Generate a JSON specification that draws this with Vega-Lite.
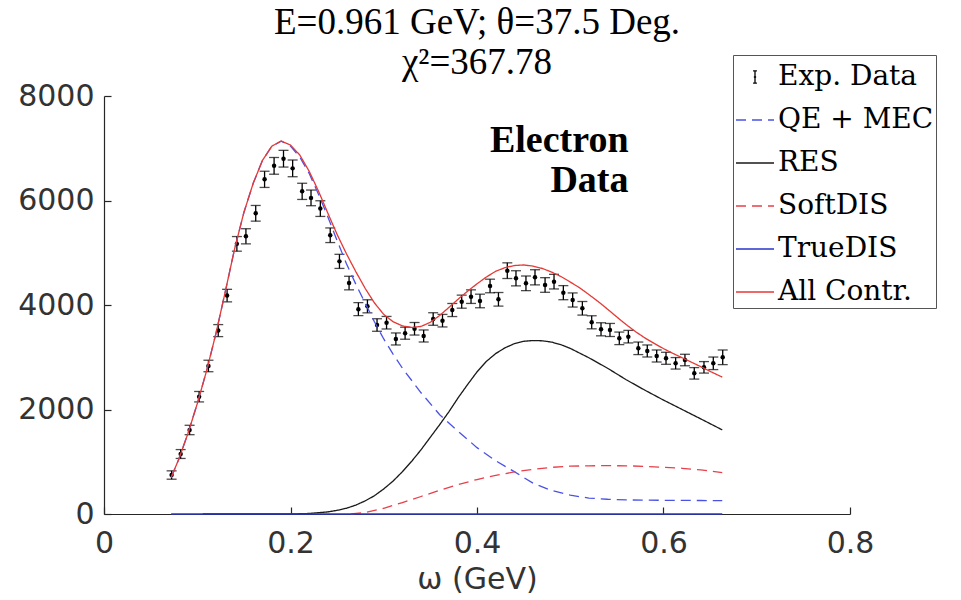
{
  "$schema": "https://vega.github.io/schema/vega-lite/v6.json",
  "width": 746,
  "height": 418,
  "autosize": {"type": "none"},
  "padding": {"left": 104, "top": 96, "right": 111, "bottom": 86},
  "background": "white",
  "title": {
    "text": ["E=0.961 GeV; θ=37.5 Deg.", "χ²=367.78"],
    "font": "Liberation Serif",
    "fontSize": 37,
    "fontWeight": "normal",
    "color": "#000000",
    "anchor": "middle",
    "lineHeight": 40,
    "offset": -27
  },
  "datasets": {
    "exp": [
      {"w": 0.0725, "v": 746, "e": 80},
      {"w": 0.0822, "v": 1148, "e": 85},
      {"w": 0.0918, "v": 1608, "e": 90},
      {"w": 0.1020, "v": 2245, "e": 100},
      {"w": 0.1120, "v": 2833, "e": 110},
      {"w": 0.1225, "v": 3510, "e": 115},
      {"w": 0.1320, "v": 4180, "e": 120},
      {"w": 0.1425, "v": 5170, "e": 140},
      {"w": 0.1522, "v": 5315, "e": 145},
      {"w": 0.1627, "v": 5755, "e": 150},
      {"w": 0.1722, "v": 6405, "e": 155},
      {"w": 0.1824, "v": 6663, "e": 160},
      {"w": 0.1925, "v": 6800, "e": 160},
      {"w": 0.2023, "v": 6615, "e": 160},
      {"w": 0.2125, "v": 6175, "e": 155},
      {"w": 0.2220, "v": 6050, "e": 150},
      {"w": 0.2320, "v": 5845, "e": 150},
      {"w": 0.2426, "v": 5335, "e": 140},
      {"w": 0.2525, "v": 4835, "e": 135},
      {"w": 0.2628, "v": 4420, "e": 130},
      {"w": 0.2728, "v": 3920, "e": 125},
      {"w": 0.2825, "v": 3975, "e": 125},
      {"w": 0.2928, "v": 3617, "e": 120},
      {"w": 0.3030, "v": 3661, "e": 120},
      {"w": 0.3130, "v": 3350, "e": 115},
      {"w": 0.3229, "v": 3460, "e": 115},
      {"w": 0.3330, "v": 3545, "e": 120},
      {"w": 0.3428, "v": 3407, "e": 115},
      {"w": 0.3530, "v": 3732, "e": 120},
      {"w": 0.3630, "v": 3700, "e": 120},
      {"w": 0.3735, "v": 3904, "e": 125},
      {"w": 0.3836, "v": 4064, "e": 125},
      {"w": 0.3936, "v": 4160, "e": 130},
      {"w": 0.4032, "v": 4077, "e": 130},
      {"w": 0.4140, "v": 4364, "e": 130},
      {"w": 0.4230, "v": 4109, "e": 130},
      {"w": 0.4325, "v": 4657, "e": 150},
      {"w": 0.4418, "v": 4511, "e": 145},
      {"w": 0.4525, "v": 4415, "e": 140},
      {"w": 0.4622, "v": 4530, "e": 145},
      {"w": 0.4730, "v": 4383, "e": 140},
      {"w": 0.4826, "v": 4447, "e": 140},
      {"w": 0.4926, "v": 4236, "e": 135},
      {"w": 0.5026, "v": 4096, "e": 135},
      {"w": 0.5130, "v": 3937, "e": 130},
      {"w": 0.5230, "v": 3669, "e": 125},
      {"w": 0.5330, "v": 3535, "e": 125},
      {"w": 0.5426, "v": 3522, "e": 125},
      {"w": 0.5526, "v": 3362, "e": 120},
      {"w": 0.5623, "v": 3394, "e": 120},
      {"w": 0.5730, "v": 3171, "e": 120},
      {"w": 0.5826, "v": 3120, "e": 115},
      {"w": 0.5927, "v": 3024, "e": 115},
      {"w": 0.6027, "v": 2980, "e": 115},
      {"w": 0.6130, "v": 2884, "e": 110},
      {"w": 0.6230, "v": 2947, "e": 110},
      {"w": 0.6330, "v": 2692, "e": 110},
      {"w": 0.6434, "v": 2807, "e": 110},
      {"w": 0.6534, "v": 2884, "e": 120},
      {"w": 0.6635, "v": 2999, "e": 140}
    ],
    "curves": [
      {"s": "QE + MEC", "w": 0.072, "v": 700},
      {"s": "QE + MEC", "w": 0.08, "v": 1040},
      {"s": "QE + MEC", "w": 0.09, "v": 1540},
      {"s": "QE + MEC", "w": 0.10, "v": 2110},
      {"s": "QE + MEC", "w": 0.11, "v": 2740},
      {"s": "QE + MEC", "w": 0.12, "v": 3450},
      {"s": "QE + MEC", "w": 0.13, "v": 4250},
      {"s": "QE + MEC", "w": 0.14, "v": 5070},
      {"s": "QE + MEC", "w": 0.15, "v": 5770},
      {"s": "QE + MEC", "w": 0.16, "v": 6330},
      {"s": "QE + MEC", "w": 0.17, "v": 6770},
      {"s": "QE + MEC", "w": 0.18, "v": 7040},
      {"s": "QE + MEC", "w": 0.19, "v": 7135},
      {"s": "QE + MEC", "w": 0.20, "v": 7040},
      {"s": "QE + MEC", "w": 0.21, "v": 6830},
      {"s": "QE + MEC", "w": 0.22, "v": 6520},
      {"s": "QE + MEC", "w": 0.23, "v": 6120},
      {"s": "QE + MEC", "w": 0.24, "v": 5690},
      {"s": "QE + MEC", "w": 0.25, "v": 5230},
      {"s": "QE + MEC", "w": 0.26, "v": 4790},
      {"s": "QE + MEC", "w": 0.27, "v": 4400},
      {"s": "QE + MEC", "w": 0.28, "v": 4040},
      {"s": "QE + MEC", "w": 0.29, "v": 3680},
      {"s": "QE + MEC", "w": 0.30, "v": 3350},
      {"s": "QE + MEC", "w": 0.31, "v": 3060},
      {"s": "QE + MEC", "w": 0.32, "v": 2790},
      {"s": "QE + MEC", "w": 0.34, "v": 2320},
      {"s": "QE + MEC", "w": 0.36, "v": 1900},
      {"s": "QE + MEC", "w": 0.38, "v": 1580},
      {"s": "QE + MEC", "w": 0.40, "v": 1270},
      {"s": "QE + MEC", "w": 0.42, "v": 1020},
      {"s": "QE + MEC", "w": 0.44, "v": 810},
      {"s": "QE + MEC", "w": 0.46, "v": 590},
      {"s": "QE + MEC", "w": 0.48, "v": 450},
      {"s": "QE + MEC", "w": 0.50, "v": 360},
      {"s": "QE + MEC", "w": 0.52, "v": 305},
      {"s": "QE + MEC", "w": 0.54, "v": 282},
      {"s": "QE + MEC", "w": 0.56, "v": 270},
      {"s": "QE + MEC", "w": 0.58, "v": 265},
      {"s": "QE + MEC", "w": 0.60, "v": 262},
      {"s": "QE + MEC", "w": 0.62, "v": 260},
      {"s": "QE + MEC", "w": 0.64, "v": 258},
      {"s": "QE + MEC", "w": 0.663, "v": 255},

      {"s": "RES", "w": 0.106, "v": 0},
      {"s": "RES", "w": 0.15, "v": 0},
      {"s": "RES", "w": 0.20, "v": 0},
      {"s": "RES", "w": 0.22, "v": 10},
      {"s": "RES", "w": 0.24, "v": 40},
      {"s": "RES", "w": 0.25, "v": 70},
      {"s": "RES", "w": 0.26, "v": 110},
      {"s": "RES", "w": 0.27, "v": 170},
      {"s": "RES", "w": 0.28, "v": 250},
      {"s": "RES", "w": 0.29, "v": 350},
      {"s": "RES", "w": 0.30, "v": 480},
      {"s": "RES", "w": 0.31, "v": 630},
      {"s": "RES", "w": 0.32, "v": 810},
      {"s": "RES", "w": 0.33, "v": 1010},
      {"s": "RES", "w": 0.34, "v": 1230},
      {"s": "RES", "w": 0.35, "v": 1470},
      {"s": "RES", "w": 0.36, "v": 1710},
      {"s": "RES", "w": 0.37, "v": 1960},
      {"s": "RES", "w": 0.38, "v": 2230},
      {"s": "RES", "w": 0.39, "v": 2480},
      {"s": "RES", "w": 0.40, "v": 2720},
      {"s": "RES", "w": 0.41, "v": 2920},
      {"s": "RES", "w": 0.42, "v": 3070},
      {"s": "RES", "w": 0.43, "v": 3180},
      {"s": "RES", "w": 0.44, "v": 3260},
      {"s": "RES", "w": 0.45, "v": 3305},
      {"s": "RES", "w": 0.46, "v": 3320},
      {"s": "RES", "w": 0.47, "v": 3315},
      {"s": "RES", "w": 0.48, "v": 3290},
      {"s": "RES", "w": 0.49, "v": 3240},
      {"s": "RES", "w": 0.50, "v": 3170},
      {"s": "RES", "w": 0.52, "v": 2990},
      {"s": "RES", "w": 0.54, "v": 2790},
      {"s": "RES", "w": 0.56, "v": 2570},
      {"s": "RES", "w": 0.58, "v": 2370},
      {"s": "RES", "w": 0.60, "v": 2180},
      {"s": "RES", "w": 0.62, "v": 2000},
      {"s": "RES", "w": 0.64, "v": 1820},
      {"s": "RES", "w": 0.663, "v": 1610},

      {"s": "SoftDIS", "w": 0.265, "v": 0},
      {"s": "SoftDIS", "w": 0.28, "v": 30},
      {"s": "SoftDIS", "w": 0.30, "v": 110},
      {"s": "SoftDIS", "w": 0.32, "v": 220},
      {"s": "SoftDIS", "w": 0.34, "v": 335},
      {"s": "SoftDIS", "w": 0.36, "v": 455},
      {"s": "SoftDIS", "w": 0.38, "v": 565},
      {"s": "SoftDIS", "w": 0.40, "v": 660},
      {"s": "SoftDIS", "w": 0.42, "v": 740},
      {"s": "SoftDIS", "w": 0.44, "v": 805},
      {"s": "SoftDIS", "w": 0.46, "v": 855},
      {"s": "SoftDIS", "w": 0.48, "v": 893},
      {"s": "SoftDIS", "w": 0.50, "v": 915},
      {"s": "SoftDIS", "w": 0.52, "v": 922},
      {"s": "SoftDIS", "w": 0.54, "v": 925},
      {"s": "SoftDIS", "w": 0.56, "v": 922},
      {"s": "SoftDIS", "w": 0.58, "v": 912},
      {"s": "SoftDIS", "w": 0.60, "v": 895},
      {"s": "SoftDIS", "w": 0.62, "v": 875},
      {"s": "SoftDIS", "w": 0.64, "v": 845},
      {"s": "SoftDIS", "w": 0.663, "v": 790},

      {"s": "TrueDIS", "w": 0.072, "v": 0},
      {"s": "TrueDIS", "w": 0.30, "v": 0},
      {"s": "TrueDIS", "w": 0.663, "v": 0},

      {"s": "All Contr.", "w": 0.072, "v": 700},
      {"s": "All Contr.", "w": 0.08, "v": 1040},
      {"s": "All Contr.", "w": 0.09, "v": 1540},
      {"s": "All Contr.", "w": 0.10, "v": 2110},
      {"s": "All Contr.", "w": 0.11, "v": 2740},
      {"s": "All Contr.", "w": 0.12, "v": 3450},
      {"s": "All Contr.", "w": 0.13, "v": 4250},
      {"s": "All Contr.", "w": 0.14, "v": 5070},
      {"s": "All Contr.", "w": 0.15, "v": 5770},
      {"s": "All Contr.", "w": 0.16, "v": 6330},
      {"s": "All Contr.", "w": 0.17, "v": 6770},
      {"s": "All Contr.", "w": 0.18, "v": 7040},
      {"s": "All Contr.", "w": 0.19, "v": 7140},
      {"s": "All Contr.", "w": 0.20, "v": 7060},
      {"s": "All Contr.", "w": 0.21, "v": 6870},
      {"s": "All Contr.", "w": 0.22, "v": 6560},
      {"s": "All Contr.", "w": 0.23, "v": 6180},
      {"s": "All Contr.", "w": 0.24, "v": 5760},
      {"s": "All Contr.", "w": 0.25, "v": 5350},
      {"s": "All Contr.", "w": 0.26, "v": 4980},
      {"s": "All Contr.", "w": 0.27, "v": 4640},
      {"s": "All Contr.", "w": 0.28, "v": 4320},
      {"s": "All Contr.", "w": 0.29, "v": 4040},
      {"s": "All Contr.", "w": 0.30, "v": 3820},
      {"s": "All Contr.", "w": 0.31, "v": 3680},
      {"s": "All Contr.", "w": 0.32, "v": 3600},
      {"s": "All Contr.", "w": 0.33, "v": 3570},
      {"s": "All Contr.", "w": 0.34, "v": 3590},
      {"s": "All Contr.", "w": 0.35, "v": 3670},
      {"s": "All Contr.", "w": 0.36, "v": 3800},
      {"s": "All Contr.", "w": 0.37, "v": 3955},
      {"s": "All Contr.", "w": 0.38, "v": 4115},
      {"s": "All Contr.", "w": 0.39, "v": 4265},
      {"s": "All Contr.", "w": 0.40, "v": 4405},
      {"s": "All Contr.", "w": 0.41, "v": 4535},
      {"s": "All Contr.", "w": 0.42, "v": 4645},
      {"s": "All Contr.", "w": 0.43, "v": 4715},
      {"s": "All Contr.", "w": 0.44, "v": 4755},
      {"s": "All Contr.", "w": 0.45, "v": 4766},
      {"s": "All Contr.", "w": 0.46, "v": 4745},
      {"s": "All Contr.", "w": 0.47, "v": 4700},
      {"s": "All Contr.", "w": 0.48, "v": 4630},
      {"s": "All Contr.", "w": 0.49, "v": 4545},
      {"s": "All Contr.", "w": 0.50, "v": 4440},
      {"s": "All Contr.", "w": 0.51, "v": 4330},
      {"s": "All Contr.", "w": 0.52, "v": 4200},
      {"s": "All Contr.", "w": 0.53, "v": 4065},
      {"s": "All Contr.", "w": 0.54, "v": 3920},
      {"s": "All Contr.", "w": 0.55, "v": 3770},
      {"s": "All Contr.", "w": 0.56, "v": 3625},
      {"s": "All Contr.", "w": 0.57, "v": 3490},
      {"s": "All Contr.", "w": 0.58, "v": 3370},
      {"s": "All Contr.", "w": 0.59, "v": 3265},
      {"s": "All Contr.", "w": 0.60, "v": 3165},
      {"s": "All Contr.", "w": 0.61, "v": 3075},
      {"s": "All Contr.", "w": 0.62, "v": 2990},
      {"s": "All Contr.", "w": 0.63, "v": 2905},
      {"s": "All Contr.", "w": 0.64, "v": 2820},
      {"s": "All Contr.", "w": 0.65, "v": 2730},
      {"s": "All Contr.", "w": 0.663, "v": 2620}
    ],
    "notes": [
      {"t": "Electron", "w": 0.5625, "v": 6930},
      {"t": "Data", "w": 0.5625, "v": 6165}
    ]
  },
  "layer": [
    {
      "data": {"name": "exp"},
      "mark": {
        "type": "errorbar",
        "color": "#000000",
        "thickness": 1.3,
        "ticks": {"size": 10, "thickness": 1.3, "color": "#000000"}
      },
      "encoding": {
        "x": {
          "field": "w",
          "type": "quantitative",
          "scale": {"domain": [0, 0.8], "nice": false, "zero": false},
          "axis": {
            "values": [0, 0.2, 0.4, 0.6, 0.8],
            "format": "~g",
            "title": "ω (GeV)",
            "labelPadding": 21,
            "titlePadding": 6,
            "labelFlush": false
          }
        },
        "y": {
          "field": "v",
          "type": "quantitative",
          "scale": {"domain": [0, 8000], "nice": false},
          "axis": {
            "values": [0, 2000, 4000, 6000, 8000],
            "format": "d",
            "title": null,
            "labelPadding": 17,
            "labelFlush": false
          }
        },
        "yError": {"field": "e"}
      }
    },
    {
      "data": {"name": "exp"},
      "mark": {"type": "point", "filled": true, "size": 20, "color": "#000000", "opacity": 1},
      "encoding": {
        "x": {"field": "w", "type": "quantitative"},
        "y": {"field": "v", "type": "quantitative"}
      }
    },
    {
      "data": {"name": "curves"},
      "mark": {"type": "line", "strokeWidth": 1.3},
      "encoding": {
        "x": {"field": "w", "type": "quantitative"},
        "y": {"field": "v", "type": "quantitative"},
        "color": {
          "field": "s",
          "type": "nominal",
          "scale": {
            "domain": ["Exp. Data", "QE + MEC", "RES", "SoftDIS", "TrueDIS", "All Contr."],
            "range": ["#000000", "#4a52e6", "#1a1a1a", "#e8404a", "#2a36c8", "#e53935"]
          },
          "legend": {
            "orient": "none",
            "legendX": 629,
            "legendY": -41,
            "title": null,
            "padding": 2,
            "strokeColor": "#555555",
            "fillColor": "#ffffff",
            "labelFont": "DejaVu Serif",
            "labelFontSize": 28,
            "labelColor": "#000000",
            "labelOffset": 3,
            "labelLimit": 400,
            "symbolSize": 1444,
            "symbolStrokeWidth": 1.3,
            "rowPadding": 9,
            "encode": {
              "symbols": {
                "update": {
                  "shape": {"signal": "datum.value === 'Exp. Data' ? 'M0,-0.32L0,0.32M-0.1,-0.32L0.1,-0.32M-0.1,0.32L0.1,0.32M-0.06,0L0.06,0' : 'stroke'"},
                  "stroke": {"scale": "color", "field": "value"},
                  "strokeDash": {"scale": "strokeDash", "field": "value"},
                  "fill": {"value": "transparent"},
                  "strokeWidth": {"value": 1.3}
                }
              }
            }
          }
        },
        "strokeDash": {
          "field": "s",
          "type": "nominal",
          "scale": {
            "domain": ["Exp. Data", "QE + MEC", "RES", "SoftDIS", "TrueDIS", "All Contr."],
            "range": [[1, 0], [10, 6], [1, 0], [10, 6], [1, 0], [1, 0]]
          },
          "legend": null
        }
      }
    },
    {
      "data": {"name": "notes"},
      "mark": {
        "type": "text",
        "align": "right",
        "baseline": "alphabetic",
        "font": "Liberation Serif",
        "fontWeight": "bold",
        "fontSize": 38,
        "color": "#000000"
      },
      "encoding": {
        "x": {"field": "w", "type": "quantitative"},
        "y": {"field": "v", "type": "quantitative"},
        "text": {"field": "t"}
      }
    }
  ],
  "config": {
    "view": {"stroke": null},
    "axis": {
      "domainColor": "#262626",
      "tickColor": "#262626",
      "labelColor": "#333333",
      "labelFont": "DejaVu Sans",
      "labelFontSize": 30,
      "titleFont": "DejaVu Sans",
      "titleFontSize": 30,
      "titleFontWeight": "normal",
      "titleColor": "#333333",
      "grid": false,
      "tickSize": -7,
      "domainWidth": 1.2,
      "tickWidth": 1.2
    }
  }
}
